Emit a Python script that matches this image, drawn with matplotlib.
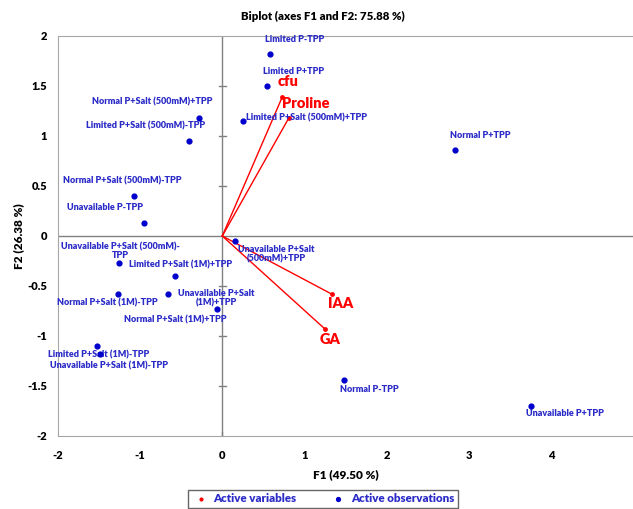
import matplotlib
matplotlib.use("Agg")
import matplotlib.pyplot as plt

plt.rcParams['font.family'] = ['Lato', 'DejaVu Sans']
plt.rcParams['font.weight'] = 800

# observations (F1, F2)
obs_names = [
    "Limited P-TPP", "Limited P+TPP", "Limited P+Salt (500mM)+TPP",
    "Normal P+Salt (500mM)+TPP", "Limited P+Salt (500mM)-TPP",
    "Normal P+Salt (500mM)-TPP", "Unavailable P-TPP", "Normal P+TPP",
    "Unavailable P+Salt\n(500mM)+TPP", "Unavailable P+Salt (500mM)-\nTPP",
    "Limited P+Salt (1M)+TPP", "Normal P+Salt (1M)-TPP",
    "Unavailable P+Salt\n(1M)+TPP", "Normal P+Salt (1M)+TPP",
    "Limited P+Salt (1M)-TPP", "Unavailable P+Salt (1M)-TPP",
    "Normal P-TPP", "Unavailable P+TPP",
]
obs_f1 = [0.58, 0.55, 0.25, -0.28, -0.41, -1.08, -0.95, 2.83, 0.16, -1.26,
          -0.57, -1.27, -0.07, -0.66, -1.52, -1.49, 1.48, 3.76]
obs_f2 = [1.82, 1.50, 1.15, 1.18, 0.95, 0.40, 0.13, 0.86, -0.05, -0.27,
          -0.40, -0.58, -0.73, -0.58, -1.10, -1.18, -1.44, -1.70]

# active variables (loadings scaled to the biplot)
var_names = ["cfu", "Proline", "IAA", "GA"]
var_f1 = [0.73, 0.81, 1.33, 1.25]
var_f2 = [1.39, 1.18, -0.58, -0.93]

# label offsets in pixels
obs_off = [(25, 15), (26, 15), (64, 3), (-47, 16), (-43, 15), (-11, 15),
           (-39, 15), (26, 15), (41, -13), (2, 12), (5, 11), (-11, -9),
           (0, 11), (7, -26), (1, -9), (9, -12), (25, -9), (34, -8)]
var_off = [(6, 15), (17, 15), (9, -10), (5, -10)]

blue = "#0000CC"
lblue = "#2B2BC8"
red = "#FF0000"
W = 800

fig = plt.figure(figsize=(6.33, 5.09), dpi=100)
ax = fig.add_axes([58 / 633, 1 - 436 / 509, 1 - 58 / 633, 400 / 509])
ax.set_xlim(-2, 5)
ax.set_ylim(-2, 2)

for s in ax.spines.values():
    s.set_color("#A6A6A6")
ax.spines['right'].set_visible(False)

ax.axhline(0, color="#808080", lw=1, zorder=1)
ax.axvline(0, color="#808080", lw=1, zorder=1)
for t in [-1.5, -1, -0.5, 0.5, 1, 1.5]:
    ax.plot([-0.04, 0.04], [t, t], color="#808080", lw=1, zorder=1)
ax.plot([0, 0], [-2, -1.96], color="#808080", lw=1)

ax.set_xticks(range(-2, 5))
ax.set_xticklabels([str(v) for v in range(-2, 5)], fontweight=W)
ax.set_yticks([-2, -1.5, -1, -0.5, 0, 0.5, 1, 1.5, 2])
ax.set_yticklabels(["-2", "-1.5", "-1", "-0.5", "0", "0.5", "1", "1.5", "2"],
                   fontweight=W)
ax.tick_params(length=0, labelsize=8, pad=10)
ax.tick_params(axis='y', pad=8)

for x, y in zip(var_f1, var_f2):
    ax.plot([0, x], [0, y], color=red, lw=1, zorder=2)
v_dots = ax.scatter(var_f1, var_f2, s=6, color=red, zorder=3)
for name, x, y, off in zip(var_names, var_f1, var_f2, var_off):
    ax.annotate(name, (x, y), xytext=off, textcoords='offset pixels',
                ha='center', va='center', color=red, fontsize=10.5,
                fontweight=W)

o_dots = ax.scatter(obs_f1, obs_f2, s=12, color=blue, zorder=4)
for name, x, y, off in zip(obs_names, obs_f1, obs_f2, obs_off):
    ax.annotate(name, (x, y), xytext=off, textcoords='offset pixels',
                ha='center', va='center', color=lblue, fontsize=6.5,
                fontweight=W, multialignment='center', linespacing=1.0)

fig.text(323 / 633, 1 - 16 / 509, "Biplot (axes F1 and F2: 75.88 %)",
         ha='center', va='center', fontsize=8.2, fontweight=W)
ax.set_xlabel("F1 (49.50 %)", fontsize=8.5, fontweight=W, labelpad=6)
ax.set_ylabel("F2 (26.38 %)", fontsize=8.5, fontweight=W, labelpad=2)

leg = fig.legend([v_dots, o_dots], ["Active variables", "Active observations"],
                 loc='upper center', bbox_to_anchor=(323 / 633, 1 - 484 / 509),
                 ncol=2, fontsize=8.3, frameon=True, fancybox=False,
                 handletextpad=0.3, columnspacing=2.8, borderpad=0.3,
                 handlelength=1.6, markerscale=0.8)
leg.get_frame().set_edgecolor("#404040")
leg.get_frame().set_linewidth(1)
for txt in leg.get_texts():
    txt.set_color(lblue)
    txt.set_fontweight(W)

fig.savefig("out.png", dpi=100)
